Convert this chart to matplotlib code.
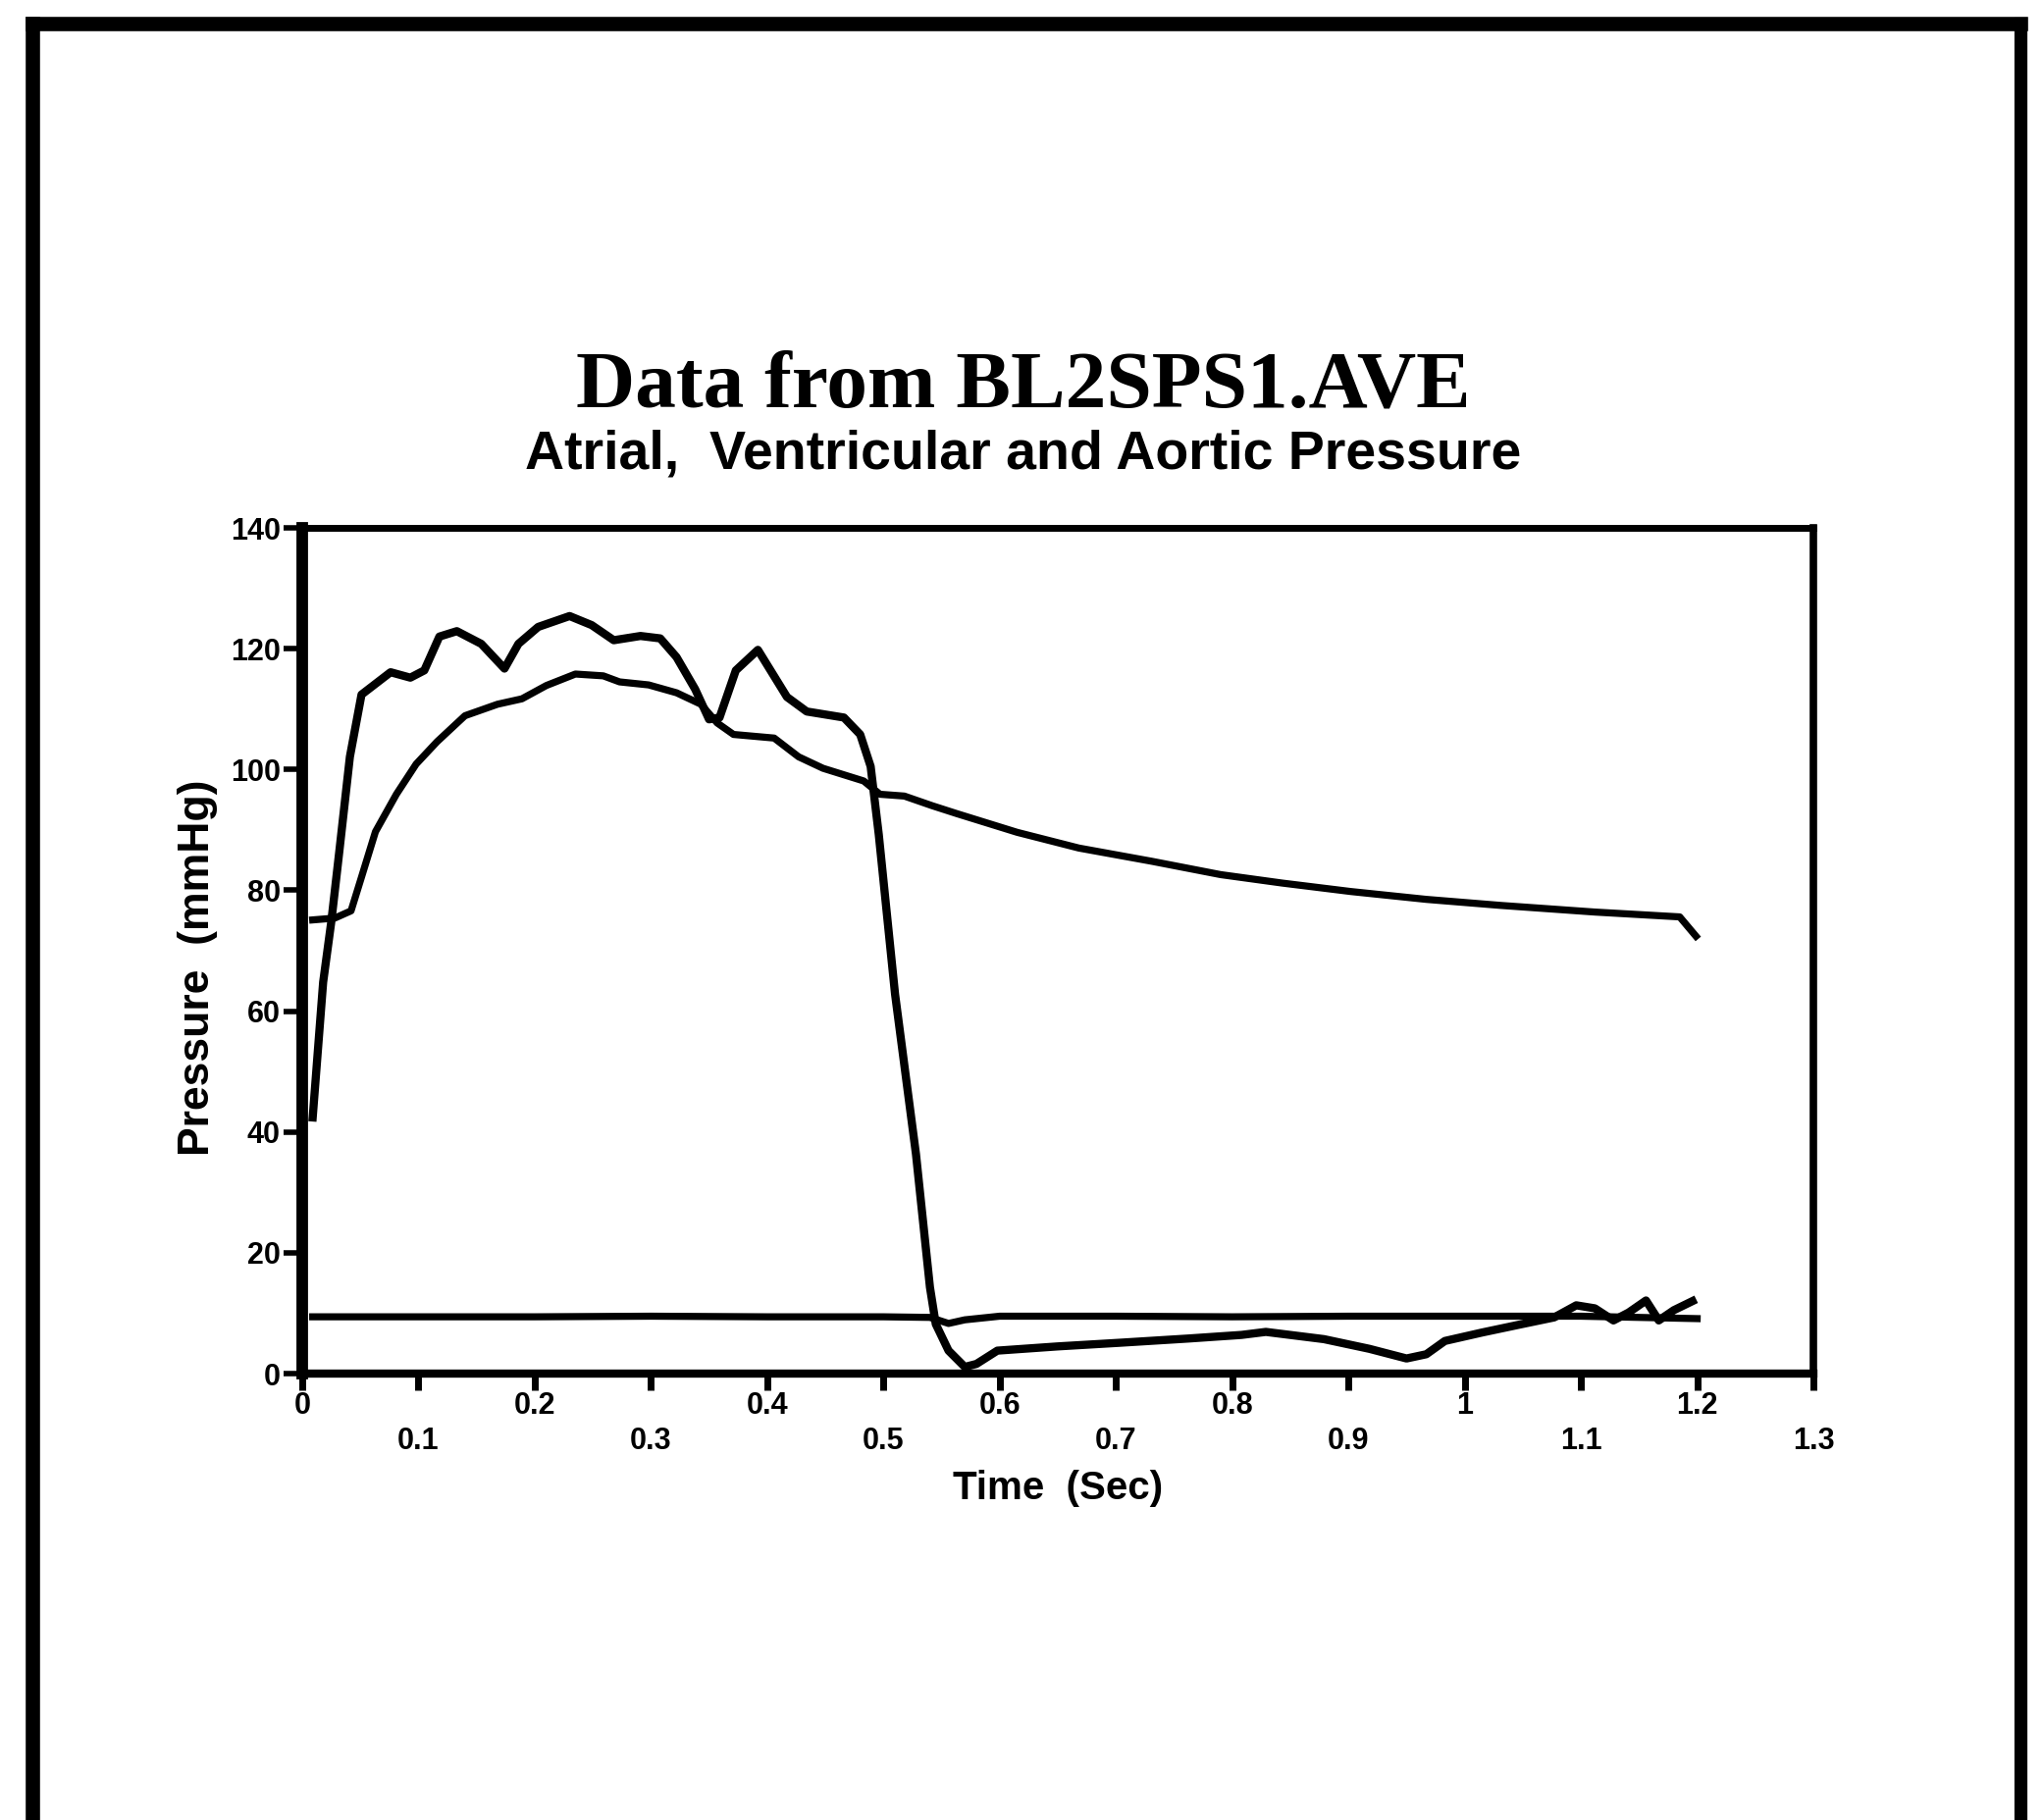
"""Pressure curves read from BL2SPS1.AVE (atrial, ventricular, aortic)."""

import matplotlib

# No display available, so draw off screen.
matplotlib.use("Agg")

import matplotlib.pyplot as plt
from matplotlib.lines import Line2D

# Atrial pressure (mmHg) against time (s).
atrial_time = [0.009, 0.1, 0.2, 0.3, 0.4, 0.5, 0.54, 0.556, 0.57, 0.6, 0.7, 0.8, 0.9, 1.0, 1.05, 1.1, 1.2]
atrial_pressure = [9.4, 9.4, 9.4, 9.5, 9.4, 9.4, 9.3, 8.3, 8.9, 9.5, 9.5, 9.4, 9.5, 9.5, 9.5, 9.5, 9.1]

# Ventricular pressure (mmHg) against time (s).
ventricular_time = [
    0.009, 0.018, 0.025, 0.032, 0.041, 0.051, 0.076, 0.093, 0.105, 0.118,
    0.133, 0.154, 0.174, 0.186, 0.203, 0.230, 0.249, 0.268, 0.291, 0.308,
    0.322, 0.338, 0.350, 0.359, 0.373, 0.392, 0.417, 0.434, 0.466, 0.480,
    0.489, 0.496, 0.510, 0.528, 0.540, 0.545, 0.556, 0.570, 0.580, 0.598,
    0.650, 0.703, 0.762, 0.808, 0.829, 0.879, 0.918, 0.950, 0.967, 0.983,
    1.015, 1.047, 1.077, 1.096, 1.112, 1.128, 1.141, 1.156, 1.167, 1.180,
    1.196,
]
ventricular_pressure = [
    42.4, 64.8, 74.8, 86.6, 102.1, 112.4, 116.1, 115.2, 116.4, 122.0,
    122.9, 120.8, 116.7, 120.8, 123.6, 125.4, 123.9, 121.4, 122.1, 121.7,
    118.6, 113.3, 108.3, 108.6, 116.4, 119.8, 112.0, 109.6, 108.6, 105.8,
    100.5, 89.2, 62.8, 36.3, 14.3, 8.2, 3.8, 1.1, 1.6, 3.8,
    4.5, 5.1, 5.8, 6.4, 6.9, 5.7, 4.1, 2.5, 3.2, 5.4,
    6.8, 8.1, 9.3, 11.3, 10.8, 8.8, 10.1, 12.1, 8.8, 10.5,
    12.0,
]

# Aortic pressure (mmHg) against time (s).
aortic_time = [
    0.009, 0.028, 0.042, 0.051, 0.063, 0.081, 0.098, 0.116, 0.140, 0.168,
    0.189, 0.210, 0.235, 0.259, 0.273, 0.298, 0.322, 0.343, 0.357, 0.371,
    0.406, 0.427, 0.448, 0.483, 0.497, 0.518, 0.542, 0.563, 0.615, 0.668,
    0.731, 0.790, 0.843, 0.902, 0.967, 1.031, 1.112, 1.185, 1.199,
]
aortic_pressure = [
    75.1, 75.4, 76.6, 82.2, 89.7, 95.9, 100.9, 104.6, 108.9, 110.8,
    111.7, 113.9, 115.8, 115.5, 114.5, 114.0, 112.7, 110.8, 107.7, 105.8,
    105.2, 102.1, 100.2, 98.1, 95.9, 95.6, 94.0, 92.7, 89.6, 87.0,
    84.8, 82.6, 81.2, 79.8, 78.5, 77.5, 76.4, 75.6, 72.4,
]

# Axis ticks: labels alternate between two rows on the x axis.
x_upper_ticks = [0, 0.2, 0.4, 0.6, 0.8, 1.0, 1.2]
x_upper_labels = ["0", "0.2", "0.4", "0.6", "0.8", "1", "1.2"]
x_lower_ticks = [0.1, 0.3, 0.5, 0.7, 0.9, 1.1, 1.3]
x_lower_labels = ["0.1", "0.3", "0.5", "0.7", "0.9", "1.1", "1.3"]
y_ticks = [0, 20, 40, 60, 80, 100, 120, 140]
y_labels = ["0", "20", "40", "60", "80", "100", "120", "140"]

TITLE = "Data from BL2SPS1.AVE"
SUBTITLE = "Atrial,  Ventricular and Aortic Pressure"

FIG_W, FIG_H = 2082, 1855
LABEL_FONT = ["Liberation Sans", "DejaVu Sans"]
TITLE_FONT = ["Liberation Serif", "DejaVu Serif"]


def main():
    # Figure at pixel size of the scanned page.
    fig = plt.figure(figsize=(FIG_W / 100, FIG_H / 100), dpi=100)
    fig.patch.set_facecolor("white")

    # Page frame: left, top and right borders only.
    top = 1 - 24 / FIG_H
    fig.add_artist(Line2D([33 / FIG_W, 33 / FIG_W], [0, top], color="black", lw=10.5, solid_capstyle="projecting"))
    fig.add_artist(Line2D([33 / FIG_W, 2059 / FIG_W], [top, top], color="black", lw=10.5, solid_capstyle="projecting"))
    fig.add_artist(Line2D([2059 / FIG_W, 2059 / FIG_W], [0, top], color="black", lw=9.5, solid_capstyle="projecting"))

    # Plot area placed like the original.
    ax = fig.add_axes([308 / FIG_W, 455 / FIG_H, 1540 / FIG_W, 862 / FIG_H])

    # The three pressure curves.
    ax.plot(aortic_time, aortic_pressure, color="black", lw=5.2, solid_joinstyle="round")
    ax.plot(ventricular_time, ventricular_pressure, color="black", lw=6.0, solid_joinstyle="round")
    ax.plot(atrial_time, atrial_pressure, color="black", lw=5.2, solid_joinstyle="round")

    # Limits follow the tick range.
    ax.set_xlim(0, 1.3)
    ax.set_ylim(0, 140)

    # Spines: heavy left side, thinner top.
    ax.spines["left"].set_linewidth(8.5)
    ax.spines["bottom"].set_linewidth(6)
    ax.spines["right"].set_linewidth(5.5)
    ax.spines["top"].set_linewidth(5)

    # X ticks on two rows using major and minor ticks.
    ax.set_xticks(x_upper_ticks)
    ax.set_xticklabels(x_upper_labels)
    ax.set_xticks(x_lower_ticks, minor=True)
    ax.set_xticklabels(x_lower_labels, minor=True)
    ax.tick_params(axis="x", which="major", direction="out", length=12, width=5, pad=1)
    ax.tick_params(axis="x", which="minor", direction="out", length=12, width=5, pad=27)

    # Y ticks.
    ax.set_yticks(y_ticks)
    ax.set_yticklabels(y_labels)
    ax.tick_params(axis="y", direction="out", length=14, width=4, pad=2)

    # Bold tick labels.
    for label in ax.get_xticklabels(which="both") + ax.get_yticklabels():
        label.set_fontfamily(LABEL_FONT)
        label.set_fontweight("bold")
        label.set_fontsize(22)

    # Axis titles.
    ax.set_xlabel("Time  (Sec)", fontsize=29, fontweight="bold", family=LABEL_FONT, va="top")
    ax.xaxis.set_label_coords(0.5, -0.114)
    ax.set_ylabel("Pressure  (mmHg)", fontsize=32, fontweight="bold", family=LABEL_FONT)
    ax.yaxis.set_label_coords(-0.056, 0.48)

    # Title and subtitle above the plot.
    fig.text(0.501, 1 - 415 / FIG_H, TITLE, ha="center", va="baseline",
             fontsize=60, fontweight="bold", family=TITLE_FONT)
    fig.text(0.501, 1 - 478 / FIG_H, SUBTITLE, ha="center", va="baseline",
             fontsize=40, fontweight="bold", family=LABEL_FONT)

    # Save the picture.
    fig.savefig("out.png", dpi=100, facecolor="white")
    plt.close(fig)


if __name__ == "__main__":
    main()
